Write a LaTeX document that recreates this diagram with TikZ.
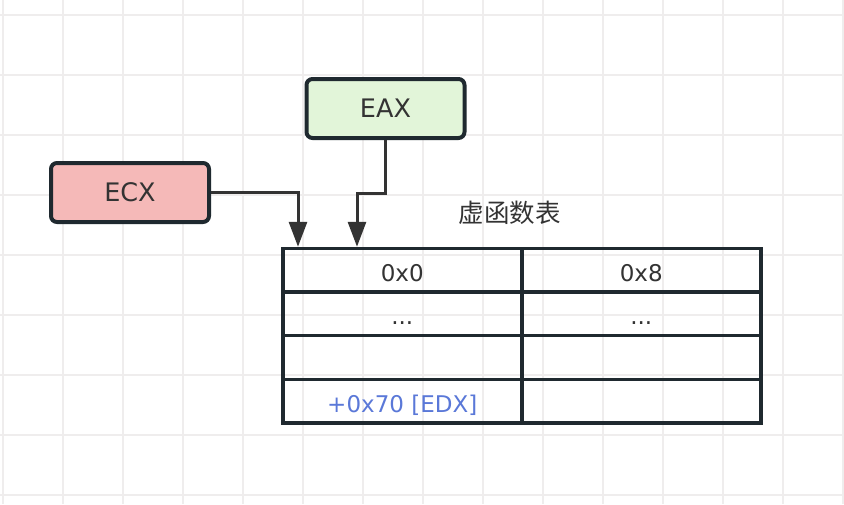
\documentclass[tikz,border=0pt]{standalone}
\usepackage{fontspec}
\setmainfont{DejaVu Sans}
\newfontfamily\cjk{Noto Sans CJK SC}
\usetikzlibrary{arrows.meta,positioning,calc}
\definecolor{gridgray}{HTML}{EFEDED}
\definecolor{edgedark}{HTML}{1F292F}
\definecolor{textgray}{HTML}{333333}
\definecolor{ecxred}{HTML}{F5B9B8}
\definecolor{eaxgreen}{HTML}{E2F5D9}
\definecolor{offblue}{HTML}{5A78D8}
\tikzset{
   arrow/.style = {-{Triangle[length=25pt,width=18pt]},line width=3pt,draw=textgray},
   regbox/.style = {rectangle,rounded corners=6pt,draw=edgedark,line width=4pt,
      minimum width=158pt,minimum height=59pt,text=textgray,font=\fontsize{25.5}{30}\selectfont},
   cell/.style = {rectangle,draw=edgedark,line width=3.5pt,minimum width=239pt,
      minimum height=43.6pt,text height=22pt,text depth=0pt,text=textgray,
      font=\fontsize{23}{28}\selectfont},
}
\begin{document}
\begin{tikzpicture}[x=1pt,y=-1pt]

      \useasboundingbox[fill=white] (0,0) rectangle (844,504);
      % grid
      \foreach \gx in {3,63,...,843} {
         \draw[gridgray,line width=2pt] (\gx,0) -- (\gx,504);
      }
      \foreach \gy in {15,75,...,495} {
         \draw[gridgray,line width=2pt] (0,\gy) -- (844,\gy);
      }

      \node[regbox,fill=ecxred]   (ecx) at (130,192.5) {ECX};
      \node[regbox,fill=eaxgreen] (eax) at (385.5,108.5) {EAX};

      % table
      \node[cell] (c00) at (402.25,270.3) {0x0};
      \node[cell] (c01) at (641.25,270.3) {0x8};
      \node[cell] (c10) at (402.25,313.9) {...};
      \node[cell] (c11) at (641.25,313.9) {...};
      \node[cell] (c20) at (402.25,357.5) {};
      \node[cell] (c21) at (641.25,357.5) {};
      \node[cell,text=offblue] (c30) at (402.25,401.1) {+0x70 [EDX]};
      \node[cell] (c31) at (641.25,401.1) {};

      \node[text=textgray,font=\cjk\fontsize{25.5}{30}\selectfont] (vtitle) at (509.5,212.5) {虚函数表};

      \draw[arrow] (ecx.east) -| ([xshift=17pt]c00.north west);
      \draw[arrow] (eax.south) -- ++(0,53) -| ([xshift=76pt]c00.north west);

\end{tikzpicture}
\end{document}
